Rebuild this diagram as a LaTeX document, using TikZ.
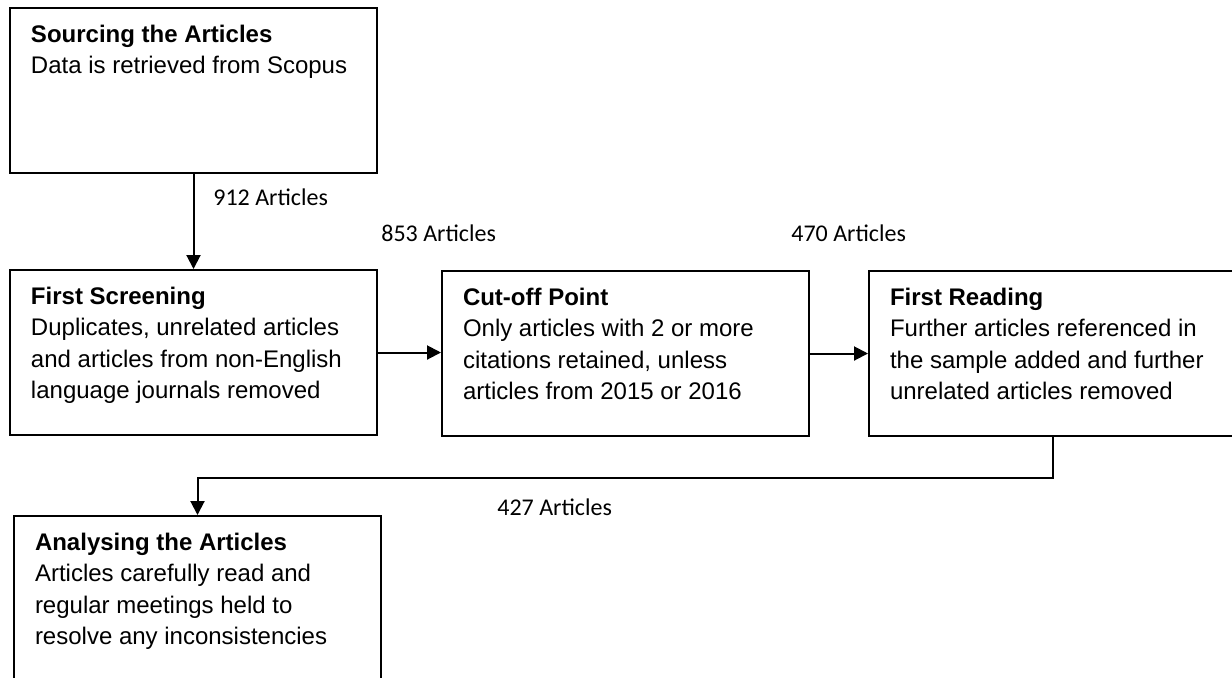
\documentclass[tikz,border=0pt]{standalone}
\usepackage{fontspec}
\setmainfont{Liberation Sans}
\newfontfamily\countfont{Carlito}
\usetikzlibrary{arrows.meta}

\tikzset{
  stage/.style={draw, rectangle, line width=1pt, anchor=north west,
    inner xsep=10.5pt, inner ysep=8.4pt, font=\fontsize{12}{15.7}\selectfont},
  count/.style={anchor=west, inner sep=0pt, font=\countfont\fontsize{12}{14}\selectfont},
  flow/.style={line width=1pt, -{Triangle[length=7pt,width=7pt]}}
}
\newcommand{\stagetext}[2]{\parbox[t][65.7pt][t]{162.5pt}{\textbf{#1}\\#2}}

\begin{document}
\begin{tikzpicture}[x=0.5pt,y=-0.5pt]
  \useasboundingbox (0,0) rectangle (1232,677);
  \clip (0,0) rectangle (1232,677);

  \node[stage] (source) at (9,7) {\stagetext{Sourcing the Articles}{Data is retrieved from Scopus}};
  \node[stage] (screen) at (9,269) {\stagetext{First Screening}{Duplicates, unrelated articles\\and articles from non-English\\language journals removed}};
  \node[stage] (cutoff) at (441,270) {\stagetext{Cut-off Point}{Only articles with 2 or more\\citations retained, unless\\articles from 2015 or 2016}};
  \node[stage] (reading) at (868,270) {\stagetext{First Reading}{Further articles referenced in\\the sample added and further\\unrelated articles removed}};
  \node[stage] (analyse) at (13,515) {\stagetext{Analysing the Articles}{Articles carefully read and\\regular meetings held to\\resolve any inconsistencies}};

  % article counts
  \node[count] (n912) at (213,197) {912 Articles};
  \node[count] (n853) at (381,233) {853 Articles};
  \node[count] (n470) at (791,233) {470 Articles};
  \node[count] (n427) at (497,507) {427 Articles};

  \draw[flow] (source) -- (screen);
  \draw[flow] (screen.east) -- (screen.east -| cutoff.west);
  \draw[flow] (cutoff.east) -- (cutoff.east -| reading.west);
  \draw[flow] (reading.south) -- ++(0,41) -| (analyse.north);
\end{tikzpicture}
\end{document}
